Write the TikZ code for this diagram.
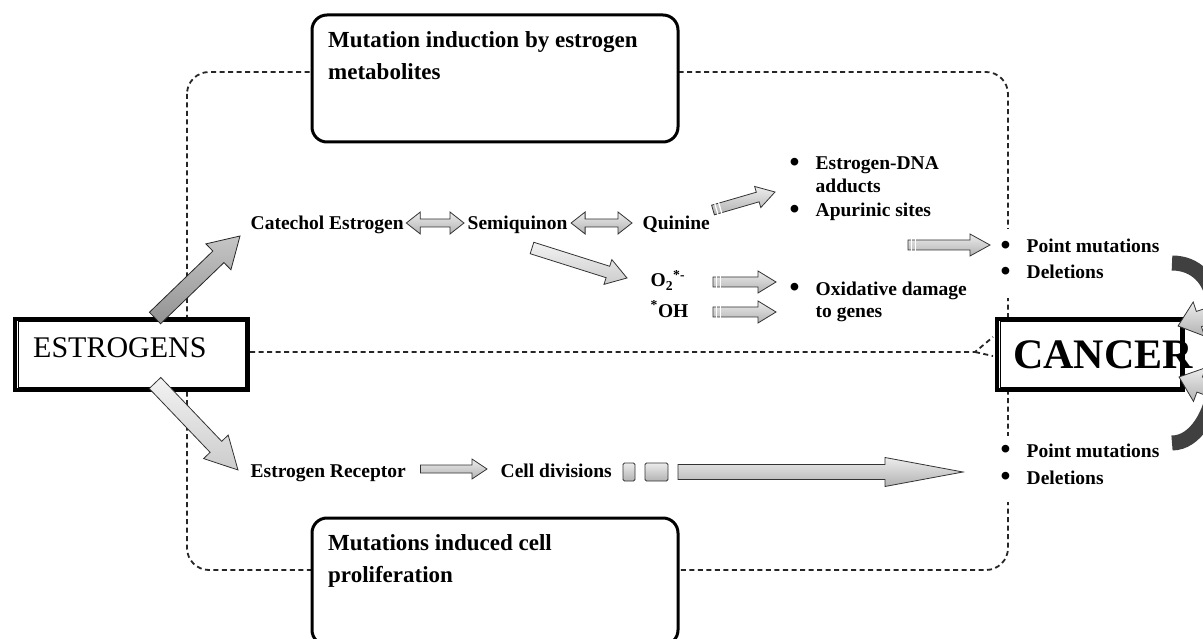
\documentclass[tikz,border=0pt]{standalone}
\usepackage{fontspec}
\setmainfont{Liberation Serif}
\usetikzlibrary{calc}
\newcommand{\fatarrow}[6]{%
  \path let \p1=($(#2)-(#1)$) in \pgfextra{%
    \pgfmathsetmacro\faAng{atan2(\y1,\x1)}%
    \pgfmathsetmacro\faLen{veclen(\x1,\y1)}%
    \global\let\faA\faAng \global\let\faL\faLen};
  \begin{scope}[shift={(#1)},rotate=\faA]
    \path[#6] (0,-#3) -- ({\faL-#5},-#3) -- ({\faL-#5},-#4) -- (\faL,0)
      -- ({\faL-#5},#4) -- ({\faL-#5},#3) -- (0,#3) -- cycle;
  \end{scope}}
\newcommand{\dblarrow}[6]{%
  \path let \p1=($(#2)-(#1)$) in \pgfextra{%
    \pgfmathsetmacro\faAng{atan2(\y1,\x1)}%
    \pgfmathsetmacro\faLen{veclen(\x1,\y1)}%
    \global\let\faA\faAng \global\let\faL\faLen};
  \begin{scope}[shift={(#1)},rotate=\faA]
    \path[#6] (0,0) -- (#5,#4) -- (#5,#3) -- ({\faL-#5},#3) -- ({\faL-#5},#4) -- (\faL,0)
      -- ({\faL-#5},-#4) -- ({\faL-#5},-#3) -- (#5,-#3) -- (#5,-#4) -- cycle;
  \end{scope}}
\newcommand{\tailstripes}[3]{%
  \path let \p1=($(#2)-(#1)$) in \pgfextra{%
    \pgfmathsetmacro\faAng{atan2(\y1,\x1)}%
    \global\let\faA\faAng};
  \begin{scope}[shift={(#1)},rotate=\faA]
    \draw[white,line width=1.3pt] (3.5,{-#3-1}) -- (3.5,{#3+1}) (7.5,{-#3-1}) -- (7.5,{#3+1});
  \end{scope}}
\newcommand{\bul}{\makebox[26pt][l]{\raisebox{-1.8pt}{\scalebox{1.45}{•}}}}
\begin{document}
\begin{tikzpicture}[x=1pt,y=-1pt,
  lbl/.style={font=\fontsize{19.5}{22}\selectfont\bfseries, inner sep=0.5pt, anchor=base west},
  boxtxt/.style={font=\fontsize{23}{30}\selectfont\bfseries, inner sep=0pt, anchor=base west},
  dashline/.style={dash pattern=on 5pt off 3.5pt, line width=1.8pt, black!85},
  roundbox/.style={draw=black, line width=3pt, rounded corners=15pt, fill=white},
  bigbox/.style={draw=black, line width=4pt, fill=white, inner sep=0pt},
  fa/.style={draw=black!80, line width=0.8pt, top color=gray!15, bottom color=gray!60},
  falight/.style={draw=black!80, line width=0.8pt, top color=gray!10, bottom color=gray!40},
  fadark/.style={draw=black!85, line width=0.8pt, top color=gray!45, bottom color=gray!85},
  darkarc/.style={line width=15pt, black!75}]
\useasboundingbox (0,0) rectangle (1203,639);
\clip (0,0) rectangle (1203,639);
\fill[white] (0,0) rectangle (1203,639);

% dashed frame
\draw[dashline, rounded corners=22pt] (187,72) rectangle (1008,570);
% gaps of the frame behind the right-hand lists
\fill[white] (996,229) rectangle (1022,298);
\fill[white] (996,436) rectangle (1022,502);

% title boxes
\path[roundbox] (312,15) rectangle (678,142);
\node[boxtxt] (topT1) at (328,48) {Mutation induction by estrogen};
\node[boxtxt] (topT2) at (328,80) {metabolites};
\path[roundbox] (312,518) rectangle (678,645);
\node[boxtxt] (botT1) at (328,550) {Mutations induced cell};
\node[boxtxt] (botT2) at (328,582) {proliferation};

% ESTROGENS box
\node[bigbox, minimum width=233pt, minimum height=71pt] (est) at (131.5,354.5) {};
\draw[line width=1pt] ($(est.north west)+(5,5)$) rectangle ($(est.south east)+(-5,-5)$);
\node[font=\fontsize{30}{32}\selectfont, inner sep=0pt, anchor=base west] (estT) at (33,357) {ESTROGENS};

% CANCER box
\node[bigbox, minimum width=186pt, minimum height=71pt] (can) at (1090,354.5) {};
\draw[line width=1pt] ($(can.north west)+(5,5)$) rectangle ($(can.south east)+(-5,-5)$);
\node[font=\fontsize{42}{44}\selectfont\bfseries, inner sep=0pt, anchor=base west] (canT) at (1013,368) {CANCER};

% horizontal dashed separator
\coordinate (sepA) at (975,352);
\draw[dashline] (est.east |- sepA) -- (sepA) -- (993,337);
\draw[dashline] (sepA) -- (993,356);

% labels
\node[lbl] (cat) at (250,230) {Catechol Estrogen};
\node[lbl] (semi) at (467,230) {Semiquinon};
\node[lbl] (quin) at (642,230) {Quinine};
\node[lbl] (o2) at (650,287) {O\textsubscript{2}\textsuperscript{*-}};
\node[lbl] (oh) at (650,317) {\textsuperscript{*}OH};
\node[lbl] (dna1) at (789,170) {\bul Estrogen-DNA};
\node[lbl] (dna2) at (789,193) {\hspace*{26pt}adducts};
\node[lbl] (apu) at (789,217) {\bul Apurinic sites};
\node[lbl] (ox1) at (789,295) {\bul Oxidative damage};
\node[lbl] (ox2) at (789,318) {\hspace*{26pt}to genes};
\node[lbl] (pm1) at (1000,253) {\bul Point mutations};
\node[lbl] (del1) at (1000,279) {\bul Deletions};
\node[lbl] (pm2) at (1000,457) {\bul Point mutations};
\node[lbl] (del2) at (1000,484) {\bul Deletions};
\node[lbl] (rec) at (250,477) {Estrogen Receptor};
\node[lbl] (cell) at (500,477) {Cell divisions};

% block arrows
\coordinate (a1s) at (155,318); \coordinate (a1e) at (240,236);
\fatarrow{a1s}{a1e}{8}{18}{30}{fadark}
\coordinate (a2s) at (155,383); \coordinate (a2e) at (238,470);
\fatarrow{a2s}{a2e}{8}{17}{32}{falight}
\coordinate (d1s) at ($(cat.base east)+(2,-7)$); \coordinate (d1e) at ($(semi.base west)+(-3,-7)$);
\dblarrow{d1s}{d1e}{4}{11}{14}{fa}
\coordinate (d2s) at ($(semi.base east)+(3,-7)$); \coordinate (d2e) at ($(quin.base west)+(-10,-7)$);
\dblarrow{d2s}{d2e}{4}{11}{14}{fa}
\coordinate (a3s) at (532,248); \coordinate (a3e) at (627,278);
\fatarrow{a3s}{a3e}{6}{13}{20}{falight}
\coordinate (a4s) at (713,210); \coordinate (a4e) at (775,192);
\fatarrow{a4s}{a4e}{5}{11}{18}{fa}
\tailstripes{a4s}{a4e}{5}
\coordinate (a5s) at (908,245); \coordinate (a5e) at (990,245);
\fatarrow{a5s}{a5e}{5}{11}{20}{fa}
\tailstripes{a5s}{a5e}{5}
\coordinate (a6s) at (713,282); \coordinate (a6e) at (776,282);
\fatarrow{a6s}{a6e}{5}{11}{18}{fa}
\tailstripes{a6s}{a6e}{5}
\coordinate (a7s) at (713,312); \coordinate (a7e) at (776,312);
\fatarrow{a7s}{a7e}{5}{11}{18}{fa}
\tailstripes{a7s}{a7e}{5}
\coordinate (a8s) at ($(rec.base east)+(14,-8)$); \coordinate (a8e) at ($(cell.base west)+(-13,-8)$);
\fatarrow{a8s}{a8e}{4}{10}{15}{fa}
\path[fa, rounded corners=1.5pt] (623,463) rectangle (635,481);
\path[fa, rounded corners=1.5pt] (645,463) rectangle (668,481);
\coordinate (a9s) at (678,472); \coordinate (a9e) at (963,472);
\fatarrow{a9s}{a9e}{7.5}{14.5}{78}{fa}

% curved arrows into CANCER
\draw[darkarc] (1172,263) .. controls (1196,263) and (1212,280) .. (1214,305);
\coordinate (r1s) at (1220,312); \coordinate (r1e) at (1178,326);
\fatarrow{r1s}{r1e}{8}{18}{22}{fa}
\draw[darkarc] (1214,388) .. controls (1212,412) and (1196,443) .. (1172,443);
\coordinate (r2s) at (1220,392); \coordinate (r2e) at (1179,377);
\fatarrow{r2s}{r2e}{8}{18}{22}{fa}
\end{tikzpicture}
\end{document}
